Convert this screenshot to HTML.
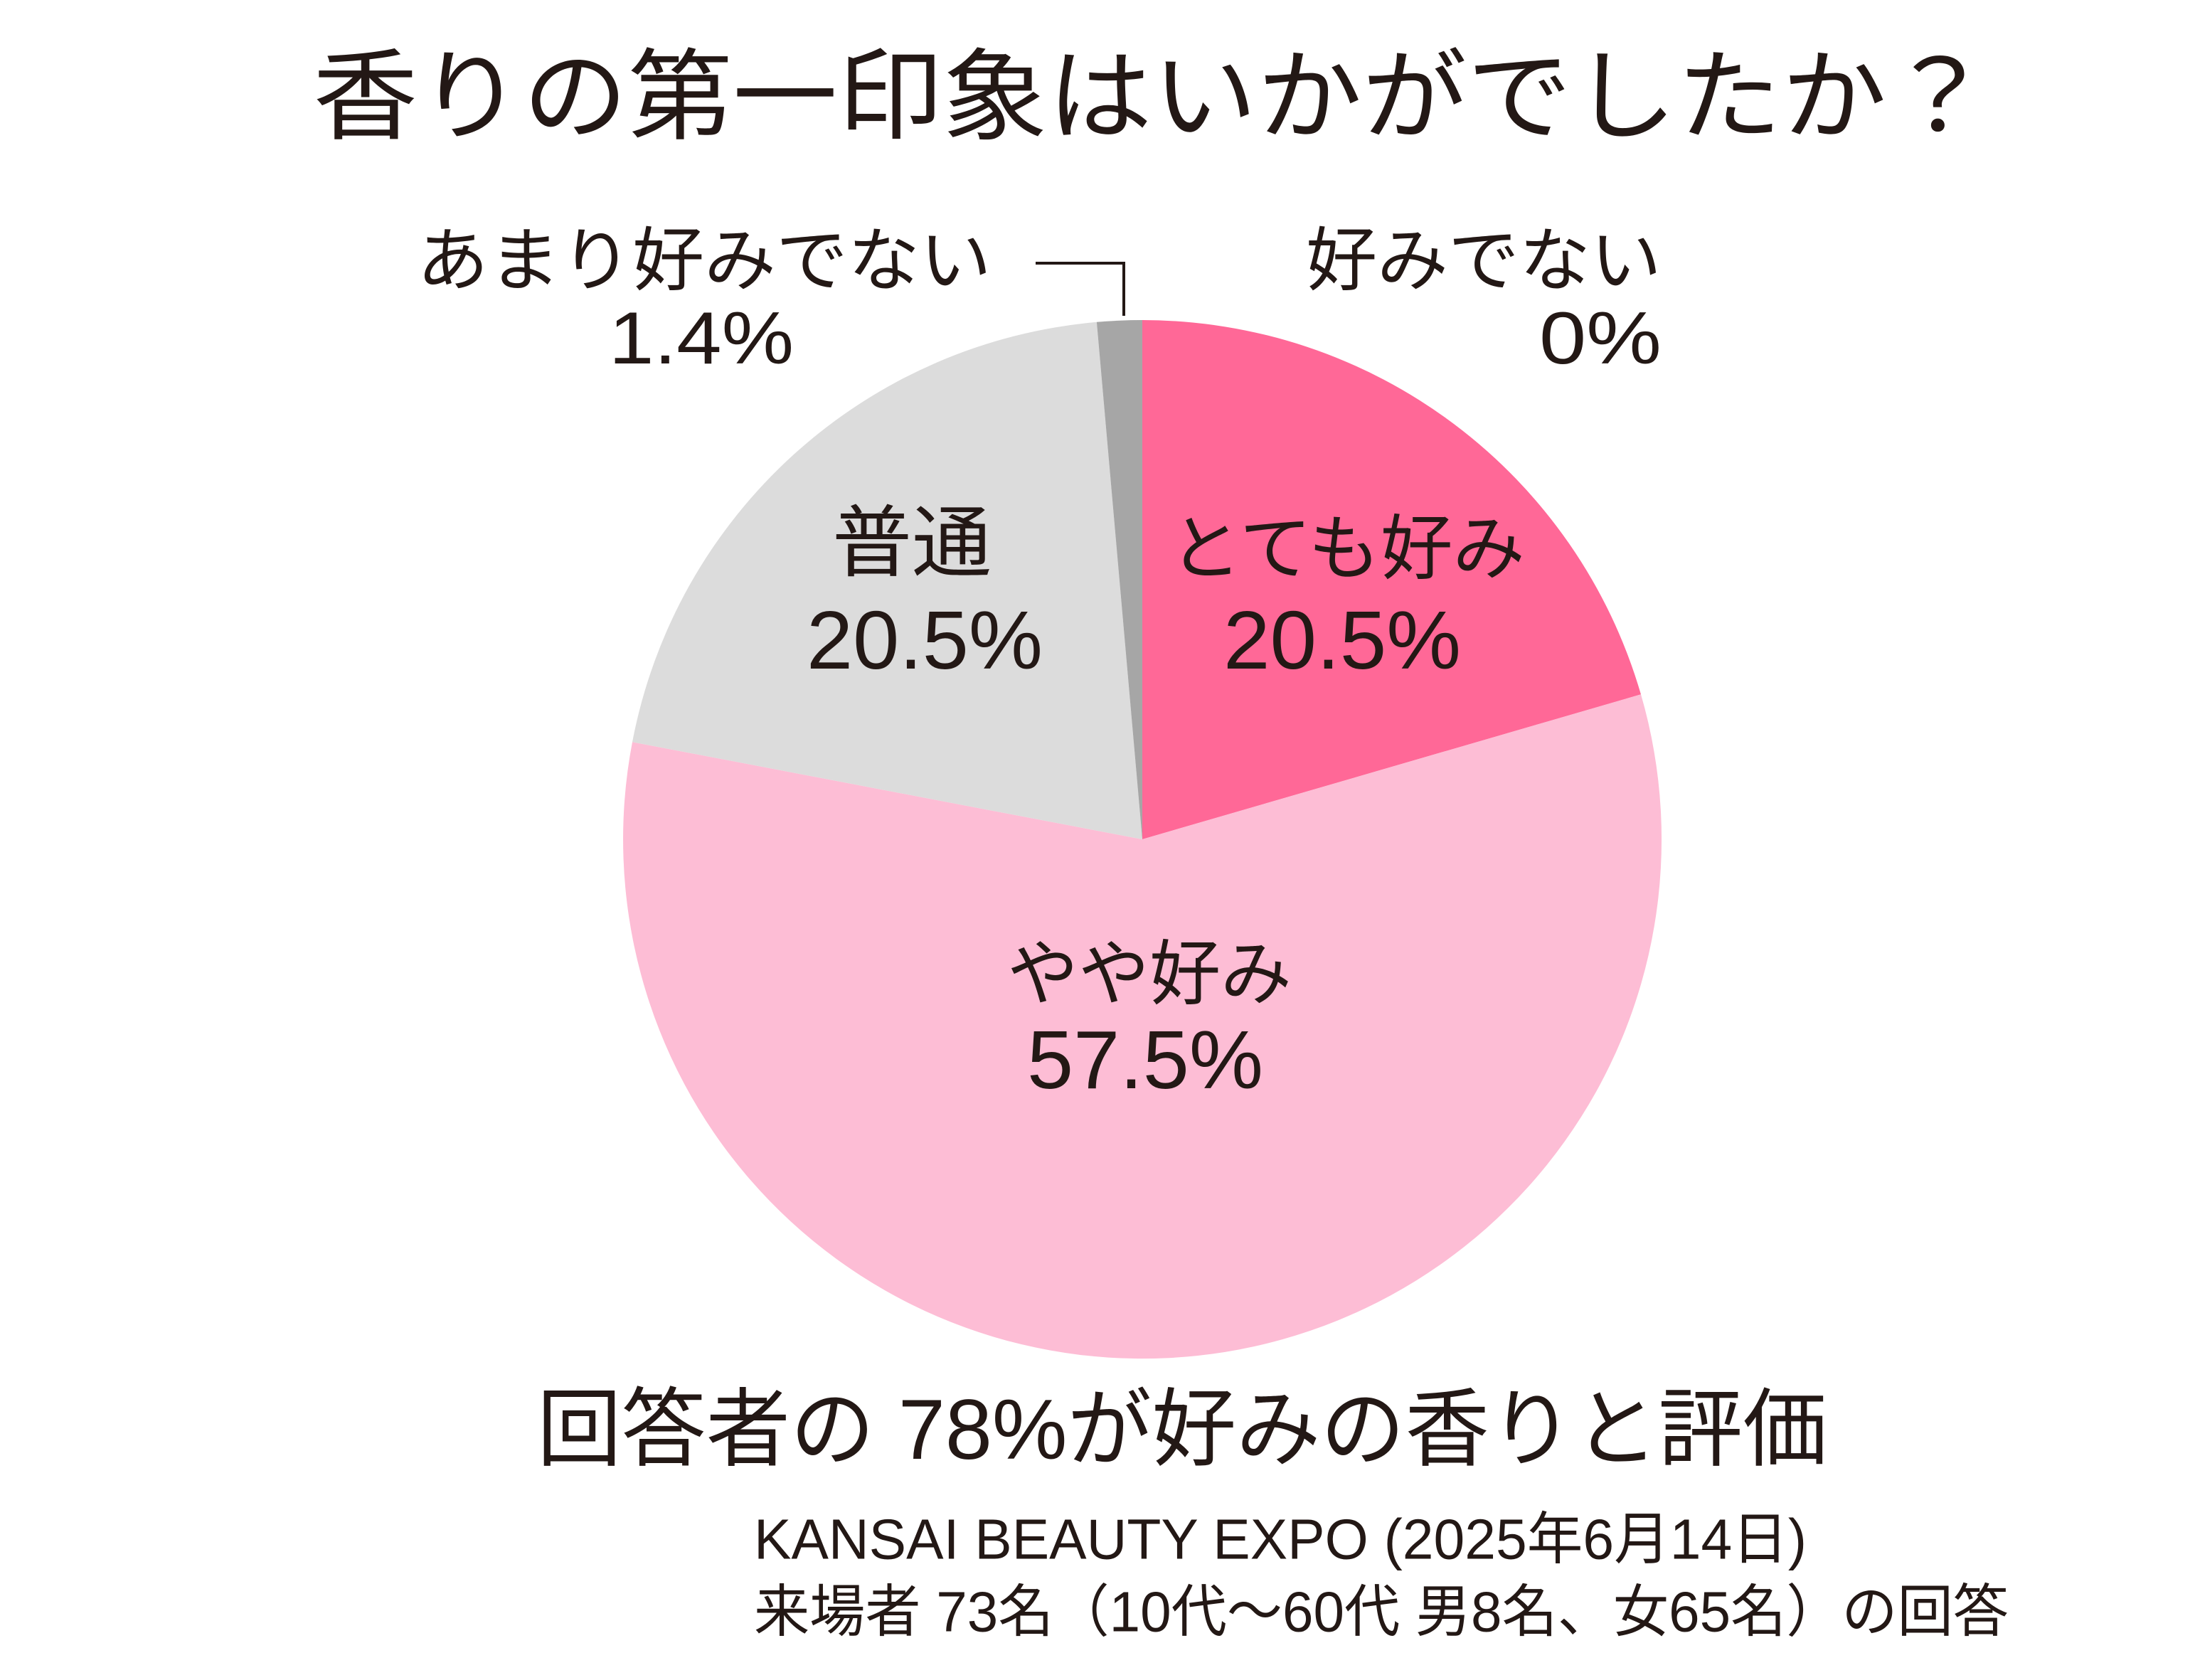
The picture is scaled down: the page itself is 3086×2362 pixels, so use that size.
<!DOCTYPE html>
<html><head><meta charset="utf-8"><style>
html,body{margin:0;padding:0;background:#fff;}
svg{display:block;}
text{font-family:"Liberation Sans","Noto Sans CJK JP",sans-serif;fill:#231815;}
</style></head><body>
<svg width="3086" height="2362" viewBox="0 0 3086 2362" xmlns="http://www.w3.org/2000/svg">
<rect width="3086" height="2362" fill="#fff"/>
<path d="M1606,1180 L1606,450 A730,730 0 0 1 2307,976.3 Z" fill="#FF6897"/>
<path d="M1606,1180 L2307,976.3 A730,730 0 1 1 889,1043.2 Z" fill="#FDBDD5"/>
<path d="M1606,1180 L889,1043.2 A730,730 0 0 1 1541.9,452.8 Z" fill="#DCDCDC"/>
<path d="M1606,1180 L1541.9,452.8 A730,730 0 0 1 1606,450 Z" fill="#A6A6A6"/>
<polyline points="1456,370 1580,370 1580,444" fill="none" stroke="#231815" stroke-width="4"/>
<g dominant-baseline="central">
<text x="1620" y="136" font-size="140" text-anchor="middle" textLength="2360" lengthAdjust="spacingAndGlyphs">香りの第一印象はいかがでしたか？</text>
<text x="990" y="366" font-size="98" text-anchor="middle" textLength="808" lengthAdjust="spacingAndGlyphs">あまり好みでない</text>
<text x="986" y="476" font-size="104" text-anchor="middle" textLength="260" lengthAdjust="spacingAndGlyphs">1.4%</text>
<text x="2086" y="366" font-size="98" text-anchor="middle" textLength="500" lengthAdjust="spacingAndGlyphs">好みでない</text>
<text x="2336" y="476" font-size="104" text-anchor="end" textLength="172" lengthAdjust="spacingAndGlyphs">0%</text>
<text x="1282" y="764" font-size="110" text-anchor="middle" textLength="224" lengthAdjust="spacingAndGlyphs">普通</text>
<text x="1300" y="900" font-size="116" text-anchor="middle" textLength="332" lengthAdjust="spacingAndGlyphs">20.5%</text>
<text x="1894" y="772" font-size="100" text-anchor="middle" textLength="500" lengthAdjust="spacingAndGlyphs">とても好み</text>
<text x="1887" y="900" font-size="116" text-anchor="middle" textLength="334" lengthAdjust="spacingAndGlyphs">20.5%</text>
<text x="1616" y="1370" font-size="100" text-anchor="middle" textLength="400" lengthAdjust="spacingAndGlyphs">やや好み</text>
<text x="1610" y="1490" font-size="116" text-anchor="middle" textLength="332" lengthAdjust="spacingAndGlyphs">57.5%</text>
<text x="1662" y="2010" font-size="120" text-anchor="middle" textLength="1814" lengthAdjust="spacingAndGlyphs">回答者の 78%が好みの香りと評価</text>
<text x="1060" y="2164" font-size="80" textLength="1480" lengthAdjust="spacingAndGlyphs">KANSAI BEAUTY EXPO (2025年6月14日)</text>
<text x="1060" y="2266" font-size="80" textLength="1764" lengthAdjust="spacingAndGlyphs">来場者 73名（10代〜60代 男8名、女65名）の回答</text>
</g>
</svg>
</body></html>
